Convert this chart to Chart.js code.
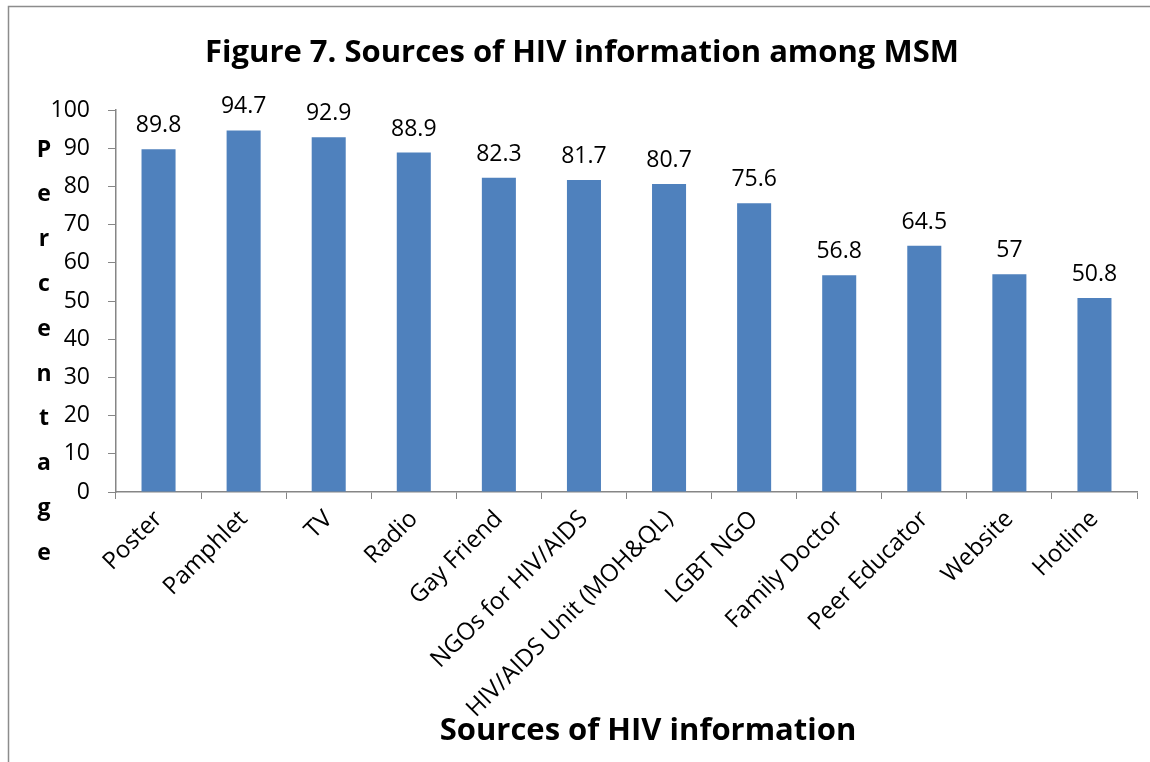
<!DOCTYPE html>
<html>
<head>
<meta charset="utf-8">
<script src="https://cdn.jsdelivr.net/npm/chart.js@4/dist/chart.umd.min.js"></script>
<style>
  html,body{margin:0;padding:0;background:#fff;}
  #wrap{width:1150px;height:762px;position:relative;}
</style>
</head>
<body>
<div id="wrap"><canvas id="chart" width="1150" height="762"></canvas></div>
<script>
// data
const sources = ['Poster','Pamphlet','TV','Radio','Gay Friend','NGOs for HIV/AIDS',
  'HIV/AIDS Unit (MOH&QL)','LGBT NGO','Family Doctor','Peer Educator','Website','Hotline'];
const percents = [89.8, 94.7, 92.9, 88.9, 82.3, 81.7, 80.7, 75.6, 56.8, 64.5, 57, 50.8];
const yTitle = 'Percentage';
const xTitle = 'Sources of HIV information';
const chartTitle = 'Figure 7. Sources of HIV information among MSM';

const axisGray = '#868686';
const fontFam = "'Open Sans', sans-serif";

// frame + vertical letter y title + x title + value labels
const extras = {
  id:'extras',
  beforeDraw(chart){
    const c = chart.ctx;
    c.save();
    c.strokeStyle = '#8c8c8c';
    c.lineWidth = 1.5;
    c.beginPath();
    c.moveTo(8.5, 762);
    c.lineTo(8.5, 6.5);
    c.lineTo(1150, 6.5);
    c.stroke();
    c.restore();
  },
  afterDraw(chart){
    const c = chart.ctx;
    c.save();
    c.fillStyle = '#000';
    // y title, one letter per line
    c.font = 'bold 23px ' + fontFam;
    c.textAlign = 'center';
    c.textBaseline = 'middle';
    yTitle.split('').forEach((ch,i)=>{
      c.fillText(ch, 44, 150 + i*44.8);
    });
    // x title
    c.font = 'bold 31px ' + fontFam;
    c.fillText(xTitle, 648, 731);
    // values on top of bars
    c.font = '23px ' + fontFam;
    c.textBaseline = 'alphabetic';
    const meta = chart.getDatasetMeta(0);
    meta.data.forEach((bar,i)=>{
      c.fillText(String(percents[i]), bar.x, bar.y - 17);
    });
    c.restore();
  }
};

new Chart(document.getElementById('chart'), {
  type:'bar',
  data:{
    labels: sources,
    datasets:[{
      label:'Percentage',
      data: percents,
      backgroundColor:'#4F81BD',
      borderWidth:0,
      barPercentage:0.4,
      categoryPercentage:1
    }]
  },
  options:{
    responsive:false,
    animation:false,
    layout:{padding:{left:27,right:13,top:0,bottom:0}},
    plugins:{
      legend:{display:false},
      tooltip:{enabled:false},
      title:{
        display:true,
        text: chartTitle,
        color:'#000',
        font:{family:fontFam, size:31, weight:'bold', lineHeight:1.2},
        padding:{top:35,bottom:38}
      }
    },
    scales:{
      x:{
        grid:{display:true, drawOnChartArea:false, color:axisGray, tickLength:7, offset:true},
        border:{color:axisGray, width:1.5},
        ticks:{color:'#000', font:{family:fontFam, size:24}, maxRotation:45, minRotation:45, autoSkip:false, padding:6},
        afterFit(s){ s.height = 270; }
      },
      y:{
        min:0, max:100,
        grid:{display:true, drawOnChartArea:false, color:axisGray, tickLength:8},
        border:{color:axisGray, width:1.5},
        ticks:{stepSize:10, color:'#000', font:{family:fontFam, size:23}, padding:18},
        afterFit(s){ s.width = 89; }
      }
    }
  },
  plugins:[extras]
});
</script>
</body>
</html>
